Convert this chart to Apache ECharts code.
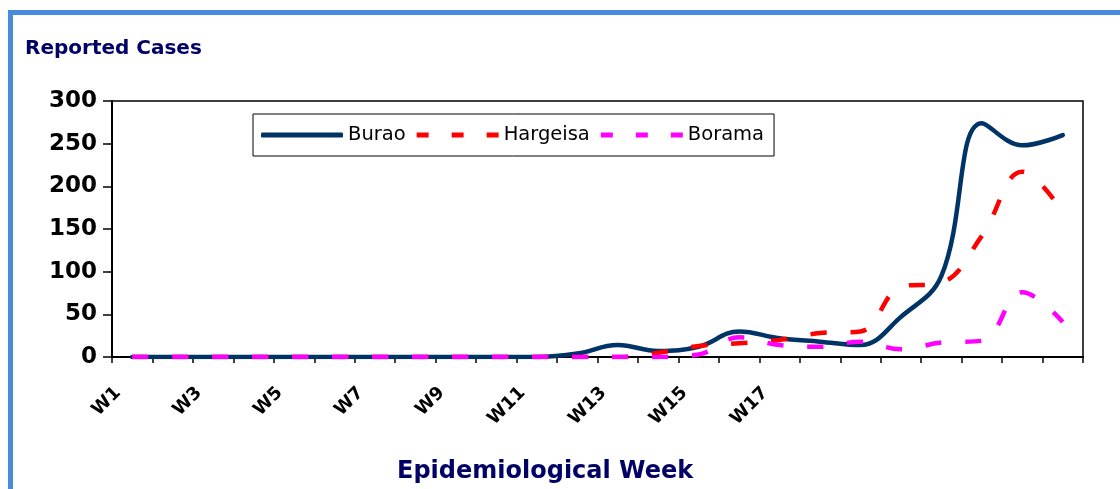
<!DOCTYPE html>
<html>
<head>
<meta charset="utf-8">
<script src="https://cdn.jsdelivr.net/npm/echarts@6/dist/echarts.min.js"></script>
<style>
  html, body { margin: 0; padding: 0; background: #ffffff; }
  #chart { width: 1120px; height: 489px; }
</style>
</head>
<body>
<div id="chart"></div>
<script>
// Categories (epidemiological weeks)
const weeks = ['W1','W2','W3','W4','W5','W6','W7','W8','W9','W10','W11','W12',
               'W13','W14','W15','W16','W17','W18','W19','W20','W21','W22','W23','W24'];
// Only W1..W17 carry visible tick labels in the reference
const lastLabelledWeek = 17;

// Reported cases per week
const burao    = [0,0,0,0,0,0,0,0,0,0,0,4,14,7,12,30,22,18,14,47,95,274,248,260];
const hargeisa = [0,0,0,0,0,0,0,0,0,0,0,0,0,5,13,16,20,28,30,82,87,142,217,170];
const borama   = [0,0,0,0,0,0,0,0,0,0,0,0,0,0,3,23,14,12,18,9,17,19,76,41];

// Y axis ticks
const yMin = 0, yMax = 300, yStep = 50;

const FONT = 'DejaVu Sans';
const DASH_ICON = 'path://M0,0h12v5h-12z M35,0h12v5h-12z M70,0h12v5h-12z';

const chart = echarts.init(document.getElementById('chart'), null, { renderer: 'canvas' });

chart.setOption({
  animation: false,
  backgroundColor: '#ffffff',
  graphic: [{
    type: 'rect',
    shape: { x: 10.5, y: 12.5, width: 1200, height: 600 },
    style: { fill: 'none', stroke: '#4a8cdb', lineWidth: 5 },
    silent: true
  }],
  title: [
    { text: 'Reported Cases', left: 20, top: 34,
      textStyle: { fontFamily: FONT, fontWeight: 'bold', fontSize: 20, color: '#000066' } },
    { text: 'Epidemiological Week', left: 392, top: 455,
      textStyle: { fontFamily: FONT, fontWeight: 'bold', fontSize: 24, color: '#000066' } }
  ],
  legend: {
    left: 253, top: 114,
    padding: [11, 10, 11, 8],
    borderColor: '#000', borderWidth: 1,
    itemWidth: 82, itemHeight: 5, itemGap: 11,
    textStyle: { fontFamily: FONT, fontSize: 19.5, color: '#000' },
    data: [
      { name: 'Burao', icon: 'roundRect' },
      { name: 'Hargeisa', icon: DASH_ICON },
      { name: 'Borama', icon: DASH_ICON }
    ]
  },
  grid: { left: 112, right: 37, top: 101, bottom: 132, show: true,
          borderColor: '#000', borderWidth: 1.5, backgroundColor: 'transparent' },
  xAxis: {
    type: 'category', data: weeks, boundaryGap: true,
    axisLine: { lineStyle: { color: '#000', width: 2 } },
    axisTick: { show: true, interval: 0, length: 6, lineStyle: { color: '#000', width: 1.5 } },
    axisLabel: {
      interval: 1, rotate: 45, margin: 19, padding: [0, 20, 0, 0],
      fontFamily: FONT, fontWeight: 'bold', fontSize: 18, color: '#000',
      formatter: (v, i) => (i < lastLabelledWeek ? v : '')
    },
    splitLine: { show: false }
  },
  yAxis: {
    type: 'value', min: yMin, max: yMax, interval: yStep,
    axisLine: { show: true, lineStyle: { color: '#000', width: 2 } },
    axisTick: { show: true, length: 9, lineStyle: { color: '#000', width: 1.5 } },
    axisLabel: { margin: 15, fontFamily: FONT, fontWeight: 'bold', fontSize: 23, color: '#000' },
    splitLine: { show: false }
  },
  series: [
    { name: 'Burao', type: 'line', data: burao, smooth: 0.4, symbol: 'none',
      lineStyle: { color: '#003366', width: 4.5, cap: 'round' }, itemStyle: { color: '#003366' } },
    { name: 'Hargeisa', type: 'line', data: hargeisa, smooth: 0.4, symbol: 'none',
      lineStyle: { color: '#ff0000', width: 4.5, type: [16, 24] }, itemStyle: { color: '#ff0000' } },
    { name: 'Borama', type: 'line', data: borama, smooth: 0.4, symbol: 'none',
      lineStyle: { color: '#ff00ff', width: 4.5, type: [16, 24] }, itemStyle: { color: '#ff00ff' } }
  ]
});
</script>
</body>
</html>
